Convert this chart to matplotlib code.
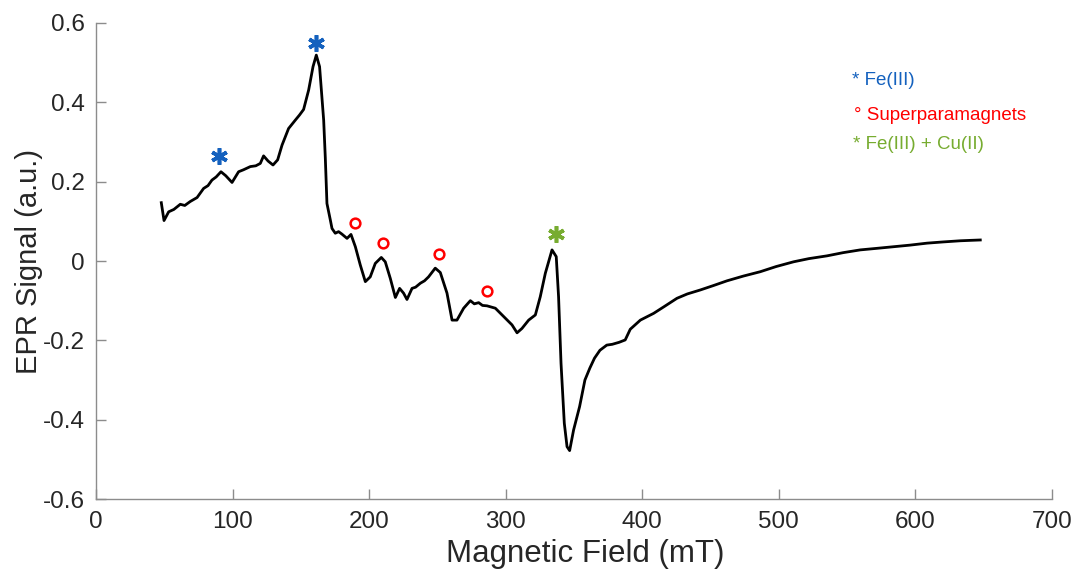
import matplotlib.pyplot as plt
import numpy as np

plt.rcParams['font.family'] = ['Liberation Sans', 'DejaVu Sans']

# EPR spectrum (field in mT, signal in a.u.)
field = [47.8, 49.8, 53.2, 57.0, 61.7, 65.0, 69.0, 74.0, 78.8, 82.0, 84.9, 88.0,
         91.5, 95.0, 99.6, 104.4, 108.0, 113.0, 117.0, 120.3, 122.7, 126.0, 129.6,
         133.0, 136.2, 141.0, 145.9, 149.0, 152.0, 155.7, 158.9, 161.3, 163.7,
         166.7, 167.9, 169.1, 171.6, 172.8, 175.2, 177.6, 180.0, 183.8, 186.7,
         189.9, 193.5, 197.2, 200.8, 204.5, 208.9, 211.8, 215.5, 219.2, 222.3,
         225.2, 227.7, 231.4, 234.0, 237.5, 240.5, 243.5, 248.4, 252.1, 257.0,
         260.7, 264.3, 269.2, 274.1, 277.0, 280.2, 283.0, 286.3, 292.4, 298.5,
         304.6, 308.3, 311.9, 316.8, 321.7, 325.3, 329.0, 333.9, 337.0, 338.7,
         340.5, 342.9, 344.9, 346.8, 349.7, 354.1, 358.0, 361.6, 365.0, 369.0,
         374.0, 378.0, 383.0, 387.5, 391.2, 398.6, 408.3, 416.0, 425.4, 433.0,
         442.5, 452.0, 462.0, 474.0, 486.4, 498.0, 510.8, 522.0, 535.3, 547.0,
         559.6, 572.0, 584.0, 596.0, 608.5, 620.0, 632.9, 640.0, 647.5]
signal = [0.147, 0.102, 0.124, 0.130, 0.143, 0.140, 0.150, 0.160, 0.183, 0.190,
          0.204, 0.212, 0.225, 0.215, 0.198, 0.225, 0.230, 0.238, 0.240, 0.246,
          0.265, 0.252, 0.242, 0.255, 0.292, 0.334, 0.355, 0.368, 0.382, 0.431,
          0.490, 0.519, 0.490, 0.355, 0.260, 0.145, 0.103, 0.082, 0.070, 0.074,
          0.068, 0.057, 0.067, 0.036, -0.010, -0.052, -0.040, -0.006, 0.009,
          -0.002, -0.044, -0.092, -0.069, -0.081, -0.097, -0.069, -0.066, -0.056,
          -0.050, -0.040, -0.018, -0.029, -0.081, -0.149, -0.149, -0.119, -0.100,
          -0.108, -0.105, -0.112, -0.113, -0.119, -0.140, -0.161, -0.181, -0.170,
          -0.149, -0.136, -0.090, -0.031, 0.028, 0.011, -0.090, -0.258, -0.409,
          -0.468, -0.478, -0.426, -0.367, -0.300, -0.270, -0.245, -0.225, -0.212,
          -0.210, -0.205, -0.199, -0.172, -0.149, -0.132, -0.115, -0.094, -0.083,
          -0.073, -0.062, -0.050, -0.038, -0.027, -0.014, -0.002, 0.006, 0.013,
          0.021, 0.028, 0.032, 0.036, 0.040, 0.045, 0.048, 0.051, 0.052, 0.053]

# annotation marker positions
fe_x = [89.8, 161.1]
fe_y = [0.265, 0.550]
sp_x = [189.4, 210.1, 251.4, 286.5]
sp_y = [0.097, 0.046, 0.018, -0.075]
cu_x = [336.8]
cu_y = [0.068]

blue = '#1461BE'
red = '#FF0000'
green = '#77AC30'
grey = '#8C8C8C'
dark = '#262626'

fig = plt.figure(figsize=(10.74, 5.72), dpi=100)
ax = fig.add_axes([0.0894, 0.1276, 0.8901, 0.8322])

ax.plot(field, signal, color='black', linewidth=2.0)

ax.plot(fe_x, fe_y, linestyle='none', marker=(6, 2, 0), markersize=12,
        markeredgewidth=2.6, color=blue)
ax.plot(sp_x, sp_y, linestyle='none', marker='o', markersize=7,
        markerfacecolor='none', markeredgewidth=1.8, color=red)
ax.plot(cu_x, cu_y, linestyle='none', marker=(6, 2, 0), markersize=12,
        markeredgewidth=2.6, color=green)

ax.text(0.791, 0.880, '* Fe(III)', color=blue, fontsize=13.5, transform=ax.transAxes,
        va='center', ha='left')
ax.text(0.793, 0.805, '° Superparamagnets', color=red, fontsize=13.5,
        transform=ax.transAxes, va='center', ha='left')
ax.text(0.792, 0.744, '* Fe(III) + Cu(II)', color=green, fontsize=13.5,
        transform=ax.transAxes, va='center', ha='left')

ax.set_xlim(0, 700)
ax.set_ylim(-0.6, 0.6)
ax.set_xticks(np.arange(0, 701, 100))
ax.set_yticks([-0.6, -0.4, -0.2, 0, 0.2, 0.4, 0.6])
ax.set_yticklabels(['-0.6', '-0.4', '-0.2', '0', '0.2', '0.4', '0.6'])

for side in ['top', 'right']:
    ax.spines[side].set_visible(False)
for side in ['left', 'bottom']:
    ax.spines[side].set_color(grey)
    ax.spines[side].set_linewidth(1.0)

ax.tick_params(direction='in', length=7, width=1.0, color=grey,
               labelcolor=dark, labelsize=17.5)
ax.tick_params(axis='x', pad=8.5)
ax.tick_params(axis='y', pad=8)

ax.set_xlabel('Magnetic Field (mT)', fontsize=22.5, color=dark, labelpad=6.5)
ax.xaxis.set_label_coords(0.5115, -0.085)
ax.set_ylabel('EPR Signal (a.u.)', fontsize=21, color=dark, labelpad=0)

fig.savefig('out.png', dpi=100)
